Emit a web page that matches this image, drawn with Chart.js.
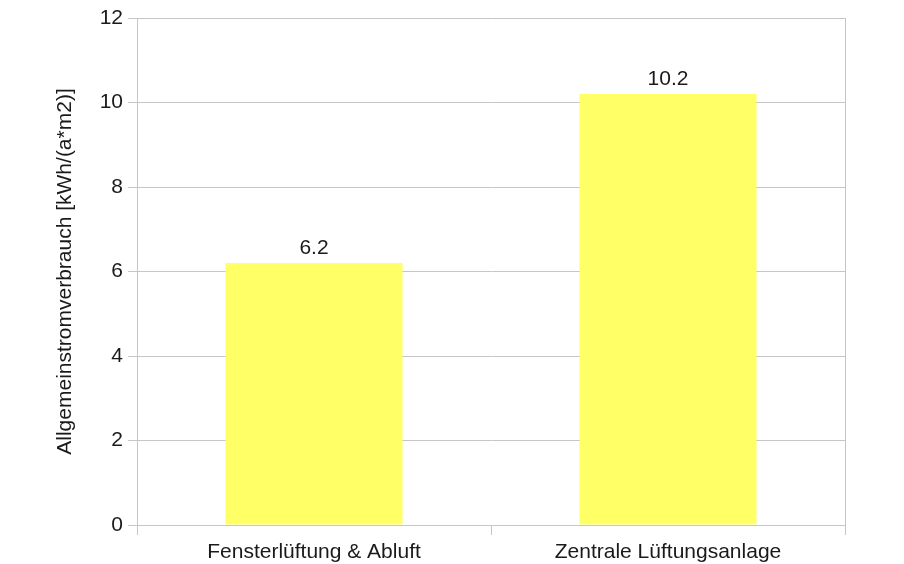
<!DOCTYPE html>
<html>
<head>
<meta charset="utf-8">
<script src="https://cdn.jsdelivr.net/npm/chart.js@4"></script>
<style>
  html, body { margin: 0; padding: 0; background: #fff; }
  #wrap { width: 904px; height: 564px; }
</style>
</head>
<body>
<div id="wrap"><canvas id="stromChart" width="904" height="564"></canvas></div>
<script>
// data
const categories = ['Fensterlüftung & Abluft', 'Zentrale Lüftungsanlage'];
const verbrauch = [6.2, 10.2];
const valueLabels = ['6.2', '10.2'];
const yTicks = [0, 2, 4, 6, 8, 10, 12];

const gridColor = '#c6c6c6';
const textColor = '#1a1a1a';
const fontFamily = '"Liberation Sans", Arial, sans-serif';

// value labels above bars
const barLabels = {
    id: 'barLabels',
    afterDatasetsDraw(chart) {
        const ctx = chart.ctx;
        const meta = chart.getDatasetMeta(0);
        ctx.save();
        ctx.font = '21px ' + fontFamily;
        ctx.fillStyle = textColor;
        ctx.textAlign = 'center';
        ctx.textBaseline = 'alphabetic';
        meta.data.forEach((bar, i) => {
            ctx.fillText(valueLabels[i], bar.x, bar.y - 9);
        });
        ctx.restore();
    }
};

const stromChart = new Chart(document.getElementById('stromChart').getContext('2d'), {
    type: 'bar',
    data: {
        labels: categories,
        datasets: [{
            data: verbrauch,
            backgroundColor: '#ffff66',
            borderWidth: 0,
            categoryPercentage: 1,
            barPercentage: 0.5
        }]
    },
    options: {
        responsive: false,
        animation: false,
        layout: { padding: { left: 0, right: 59, top: 18, bottom: 0 } },
        plugins: {
            legend: { display: false },
            tooltip: { enabled: false }
        },
        scales: {
            x: {
                offset: true,
                grid: {
                    offset: true,
                    color: ctx => ctx.index === 1 ? 'rgba(0,0,0,0)' : gridColor,
                    tickColor: gridColor,
                    tickLength: 10,
                    lineWidth: 1
                },
                border: { color: gridColor },
                ticks: {
                    color: textColor,
                    padding: 5,
                    maxRotation: 0,
                    font: { family: fontFamily, size: 21 }
                },
                afterFit(scale) { scale.height = 39; }
            },
            y: {
                min: 0,
                max: 12,
                afterBuildTicks(scale) { scale.ticks = yTicks.map(v => ({ value: v })); },
                grid: {
                    color: gridColor,
                    tickColor: gridColor,
                    tickLength: 9,
                    lineWidth: 1
                },
                border: { color: gridColor },
                ticks: {
                    color: textColor,
                    padding: 5,
                    font: { family: fontFamily, size: 21 }
                },
                title: {
                    display: true,
                    text: 'Allgemeinstromverbrauch [kWh/(a*m2)]',
                    color: textColor,
                    padding: { top: 53, bottom: 0 },
                    font: { family: fontFamily, size: 21 }
                },
                afterFit(scale) { scale.width = 137; }
            }
        }
    },
    plugins: [barLabels]
});
</script>
</body>
</html>
